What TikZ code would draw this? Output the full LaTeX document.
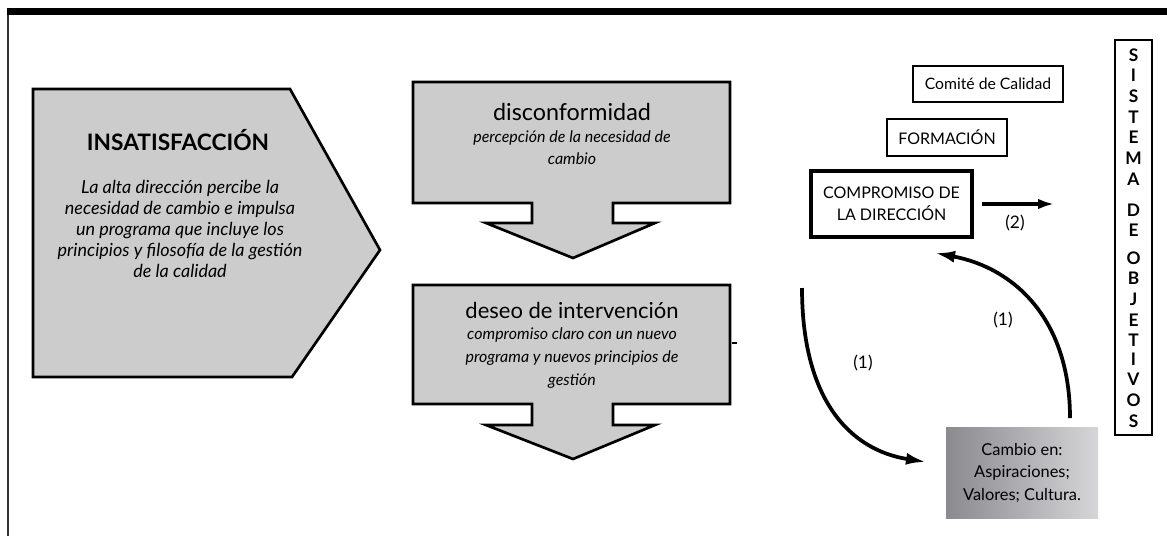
\documentclass[tikz,border=0pt]{standalone}
\usepackage{fontspec}
\setmainfont{Lato}
\usetikzlibrary{arrows.meta,positioning}

\begin{document}
\begin{tikzpicture}[x=0.75pt,y=-0.75pt,
	grayshape/.style={draw=black, line width=2pt, fill=gray!40, line join=miter},
	plainbox/.style={draw=black, line width=1.6pt, inner sep=0pt, align=center},
	headtext/.style={font=\fontsize{16.5}{18}\selectfont},
	bodytext/.style={align=center, font=\itshape\fontsize{12}{16.5}\selectfont},
	loopline/.style={line width=2.8pt, -{Latex[length=15pt,width=9pt]}},
	sysletter/.style={font=\bfseries\fontsize{13}{15}\selectfont, inner sep=0pt},
	tag/.style={font=\fontsize{13}{15}\selectfont}]
			\useasboundingbox (0,0) rectangle (1167,536);
			
			% Frame: heavy top rule and left edge
			\fill[black] (7,8) rectangle (1167,15);
			\draw[line width=1pt, black!80] (8,15) -- (8,536);
			
			% Pentagon arrow
			\draw[grayshape] (33,89) -- (290,89) -- (380,250) -- (292,377) -- (33,377) -- cycle;
			\node[font=\bfseries\fontsize{17}{19}\selectfont] (insat) at (178,140) {INSATISFACCIÓN};
			\node[bodytext, font=\itshape\fontsize{13.5}{15.75}\selectfont] (insattxt) at (180,229)
				{La alta dirección percibe la\\ necesidad de cambio e impulsa\\ un programa que incluye los\\ principios y filosofía de la gestión\\ de la calidad};
			
			% Block arrows in the middle
			\foreach \t/\b/\s/\p in {82/203/223/258, 285/404/425/459} {
				\draw[grayshape] (413,\t) -- (730,\t) -- (730,\b) -- (613,\b) -- (613,\s) -- (655,\s)
					-- (573,\p) -- (486,\s) -- (532,\s) -- (532,\b) -- (413,\b) -- cycle;
			}
			\node[headtext, font=\fontsize{17.5}{19}\selectfont] (disc) at (572,112) {disconformidad};
			\node[bodytext] (disctxt) at (572,148) {percepción de la necesidad de\\ cambio};
			\node[headtext] (deseo) at (572,310) {deseo de intervención};
			\node[bodytext, font=\itshape\fontsize{12}{17}\selectfont] (deseotxt) at (572,358)
				{compromiso claro con un nuevo\\ programa y nuevos principios de\\ gestión};
			\draw[line width=0.8pt] (732,343) -- (737,343);
			
			% Boxes on the right
			\node[plainbox, minimum width=112.5pt, minimum height=27pt, font=\fontsize{11.8}{13}\selectfont] (comite) at (988,84) {Comité de Calidad};
			\node[plainbox, minimum width=90pt, minimum height=27.75pt, font=\fontsize{12}{13}\selectfont] (formacion) at (947,137.5) {FORMACIÓN};
			\node[plainbox, line width=3pt, minimum width=120.75pt, minimum height=49.5pt, font=\fontsize{12}{16.5}\selectfont] (compromiso) at (891.5,204) {COMPROMISO DE\\ LA DIRECCIÓN};
			
			% Arrow towards the objectives
			\coordinate (dosA) at (982,204);
			\coordinate (dosB) at (1054,204);
			\draw[line width=2.8pt, -{Latex[length=12pt,width=8pt]}] (dosA) -- (dosB);
			\node[tag] (dos) at (1015,223) {(2)};
			
			% Change box
			\node[inner sep=0pt, minimum width=114pt, minimum height=68.25pt, align=center,
				left color={rgb,255:red,138;green,138;blue,143}, right color={rgb,255:red,214;green,214;blue,216},
				font=\fontsize{12.3}{17}\selectfont] (cambio) at (1022,473) {Cambio en:\\ Aspiraciones;\\ Valores; Cultura.};
			
			% Loop between commitment and change
			\coordinate (bajaA) at (802,288);
			\coordinate (bajaB) at (926,462);
			\coordinate (subeA) at (1070,418);
			\coordinate (subeB) at (935,253);
			\draw[loopline] (bajaA) .. controls (802,400) and (850,450) .. (bajaB);
			\draw[loopline] (subeA) .. controls (1070,320) and (1015,268) .. (subeB);
			\node[tag] (unoA) at (863,363) {(1)};
			\node[tag] (unoB) at (1003,320) {(1)};
			
			% Objectives column
			\draw[line width=1.8pt] (1115,40) rectangle (1152,435);
			\foreach \ch/\yy [count=\i] in {S/55, I/75, S/96, T/117, E/137, M/158, A/179, D/210, E/230,
				O/258, B/278, J/299, E/320, T/340, I/359, V/379, O/400, S/421} {
				\node[sysletter] (letra\i) at (1133.5,\yy) {\ch};
			}
		\end{tikzpicture}
\end{document}
